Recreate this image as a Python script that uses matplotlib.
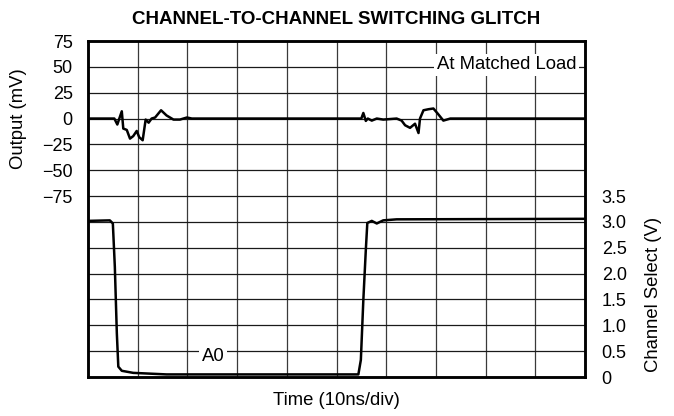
import matplotlib
matplotlib.use("Agg")
import matplotlib.pyplot as plt

plt.rcParams["font.family"] = ["Liberation Sans", "DejaVu Sans"]

# output glitch trace (time in divisions, output in mV)
out_t = [0.0, 0.47, 0.53, 0.59, 0.63, 0.68, 0.71, 0.78, 0.845, 0.91, 0.98, 1.03, 1.10,
         1.16, 1.22, 1.28, 1.35, 1.47, 1.58, 1.72, 1.85, 1.99, 2.09,
         5.50, 5.54, 5.59, 5.63, 5.71, 5.81, 5.94, 6.21, 6.31, 6.38, 6.48, 6.58,
         6.65, 6.68, 6.75, 6.85, 6.95, 7.05, 7.15, 7.22, 7.29, 10.0]
out_mv = [0.0, 0.0, 0.0, -5.8, 0.0, 7.0, -9.7, -11.0, -19.4, -17.0, -12.0, -18.0, -21.0,
          -1.0, -4.0, 0.0, 1.0, 8.0, 3.0, -1.0, -1.0, 1.0, 0.0,
          0.0, 5.4, -2.3, 0.0, -2.0, 0.0, -1.0, 0.0, -2.0, -6.5, -9.0, -5.0,
          -14.0, 0.0, 8.0, 9.0, 9.7, 4.0, -2.0, -1.0, 0.0, 0.0]

# channel select trace (time in divisions, volts)
sel_t = [0.0, 0.44, 0.50, 0.54, 0.58, 0.61, 0.68, 0.91, 1.58, 5.44,
         5.49, 5.54, 5.59, 5.62, 5.71, 5.81, 5.94, 6.21, 10.0]
sel_v = [3.02, 3.03, 2.97, 2.13, 0.85, 0.20, 0.12, 0.08, 0.05, 0.05,
         0.33, 1.49, 2.46, 2.98, 3.02, 2.97, 3.03, 3.05, 3.06]

left_ticks = [75, 50, 25, 0, -25, -50, -75]
right_ticks = [0, 0.5, 1.0, 1.5, 2.0, 2.5, 3.0, 3.5]
right_labels = ["0", "0.5", "1.0", "1.5", "2.0", "2.5", "3.0", "3.5"]

fig = plt.figure(figsize=(6.74, 4.16), dpi=100)
ax = fig.add_axes([88 / 674, 39 / 416, 497 / 674, 336 / 416])
ax2 = ax.twinx()

ax.set_xlim(0, 10)
ax.set_ylim(-250, 75)
ax2.set_ylim(0, 6.5)

# grid
for i in range(1, 10):
    ax.axvline(i, color="#3a3a3a", lw=0.9, zorder=1)
for v in range(-225, 75, 25):
    ax.axhline(v, color="#1a1a1a", lw=0.9, zorder=1)

ax.plot(out_t, out_mv, color="black", lw=1.8, zorder=3)
ax2.plot(sel_t, sel_v, color="black", lw=1.8, zorder=3)

ax.set_xticks([])
ax.set_yticks(left_ticks)
ax.set_yticklabels([str(t).replace("-", "\u2212") for t in left_ticks])
ax2.set_yticks(right_ticks)
ax2.set_yticklabels(right_labels)
ax.tick_params(axis="y", length=0, pad=11, labelsize=13)
ax2.tick_params(axis="y", length=0, pad=12, labelsize=13)

for a in (ax, ax2):
    for s in a.spines.values():
        s.set_linewidth(1.8)

# axis titles sit beside their own tick ranges
ax.set_ylabel("Output (mV)", fontsize=13.3)
ax.yaxis.set_label_coords(-0.123, 0.769)
ax2.set_ylabel("Channel Select (V)", fontsize=13.3)
ax2.yaxis.set_label_coords(1.121, 0.247)
ax.set_xlabel("Time (10ns/div)", fontsize=13.3, labelpad=11)
ax.set_title("CHANNEL-TO-CHANNEL SWITCHING GLITCH", fontsize=13.5,
             fontweight="bold", pad=12)

ax.text(9.82, 52, "At Matched Load", ha="right", va="center", fontsize=13.3,
        bbox=dict(facecolor="white", edgecolor="none", pad=2), zorder=4)
ax2.text(2.52, 0.4, "A0", ha="center", va="center", fontsize=13.3,
         bbox=dict(facecolor="white", edgecolor="none", pad=2), zorder=4)

fig.savefig("out.png", dpi=100)
